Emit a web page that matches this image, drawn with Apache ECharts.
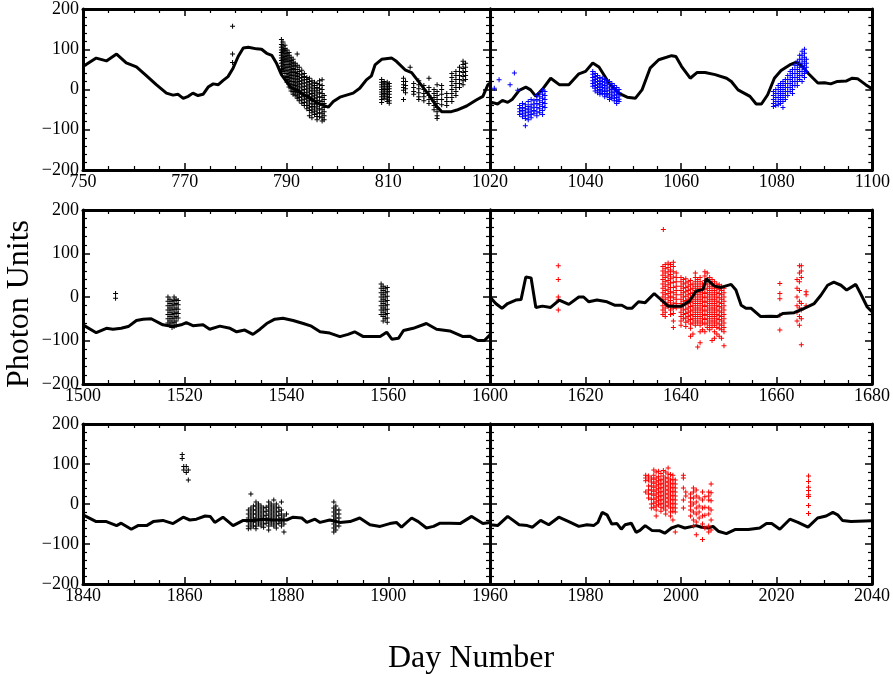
<!DOCTYPE html>
<html>
<head>
<meta charset="utf-8">
<script src="https://cdn.jsdelivr.net/npm/echarts@6/dist/echarts.min.js"></script>
<style>
  html, body { margin: 0; padding: 0; background: #fff; }
  #chart { width: 893px; height: 674px; }
</style>
</head>
<body>
<div id="chart"></div>
<script>
// black model curves, one per panel: [day, photon units]
const tlCurve = [[750,57],[752.6,78],[754.6,71],[756.6,88],[758.5,66],[760.5,56],[762.5,34],[764.4,12],[766.4,-9],[767.7,-14],[768.7,-12],[769.7,-22],[770.7,-17],[771.6,-9],[772.6,-15],[773.6,-12],[774.6,6],[775.6,14],[776.6,12],[777.5,22],[778.5,32],[779.5,53],[780.5,82],[781.5,103],[782.5,105],[784.1,101],[785.1,100],[786.1,90],[787.1,85],[788,66],[789,37],[790.7,7],[792.6,-7],[794.6,-22],[796.2,-34],[798.2,-44],[799.2,-30],[800.5,-19],[803.1,-9],[804.4,3],[805.7,24],[806.7,34],[807.4,61],[808.7,75],[810.7,78],[811.6,70],[813.3,49],[814.6,42],[816.2,16],[818.2,-17],[819.5,-42],[820.5,-55],[822.4,-55],[823.5,-51],[825.4,-41],[827.3,-26],[828.6,-17],[829.6,12],[830,16]];
const trCurve = [[1020,-40],[1020.4,-32],[1021.6,-36],[1022.6,-27],[1023.7,-32],[1024.7,-24],[1026.1,-2],[1027.5,6],[1028.5,-1],[1029.6,-17],[1031,1],[1032.7,28],[1034.5,12],[1036.5,12],[1038.6,39],[1040,45],[1041.5,66],[1042.8,56],[1044.9,16],[1046.9,-9],[1048.7,-19],[1050.4,-22],[1051.8,-1],[1053.5,53],[1055.3,74],[1058,84],[1058.9,82],[1060.1,57],[1061.9,28],[1063.3,42],[1065,42],[1067.1,37],[1069.5,28],[1070.5,20],[1071.9,-1],[1074.4,-17],[1075.7,-36],[1076.8,-36],[1078.1,-13],[1079.5,28],[1080.9,47],[1082.7,61],[1084.1,68],[1085.4,57],[1086.5,41],[1088.6,16],[1090,17],[1091.3,14],[1092.7,20],[1094.5,21],[1095.8,28],[1096.9,27],[1098.6,12],[1100,1]];
const mlCurve = [[1500,-64],[1502.6,-82],[1504.6,-72],[1505.9,-74],[1507.5,-72],[1508.9,-68],[1510.5,-54],[1511.8,-51],[1513.4,-50],[1515.7,-64],[1517.7,-68],[1519.3,-64],[1520.3,-59],[1521.6,-66],[1523.6,-64],[1524.9,-74],[1526.9,-67],[1528.9,-72],[1530.2,-80],[1531.8,-76],[1533.4,-86],[1534.8,-74],[1536.1,-61],[1537.7,-51],[1539.3,-49],[1541.3,-54],[1543.3,-61],[1544.9,-67],[1546.6,-80],[1548.5,-83],[1550.5,-91],[1552.1,-86],[1553.4,-80],[1555.1,-91],[1557,-91],[1558.4,-91],[1559.7,-81],[1560.7,-97],[1562,-95],[1563,-77],[1564.9,-72],[1567.5,-61],[1569.5,-74],[1572.1,-78],[1574.7,-91],[1576,-90],[1577.6,-100],[1578.9,-100],[1580,-87]];
const mrCurve = [[1600,0],[1601.2,-15],[1602.5,-26],[1603.7,-15],[1605.4,-7],[1606.5,-6],[1607.5,46],[1608.6,44],[1609.6,-24],[1611,-21],[1612.7,-24],[1614.5,-7],[1616.5,-17],[1618.6,0],[1619.6,0],[1620.7,-11],[1622.4,-7],[1624.5,-11],[1626.2,-19],[1627.6,-19],[1628.7,-26],[1629.7,-26],[1631.1,-11],[1632.5,-13],[1634.4,8],[1635.6,-4],[1637.3,-21],[1640.1,-21],[1641.8,-9],[1643.2,14],[1644.6,17],[1645.3,42],[1647,25],[1648.4,22],[1650.5,29],[1651.5,16],[1652.6,-19],[1653.6,-26],[1654.7,-26],[1656.7,-45],[1658.8,-44],[1660.2,-45],[1661.3,-38],[1663.7,-36],[1665.8,-26],[1667.9,-15],[1669.3,4],[1670.7,27],[1672,34],[1673.5,27],[1674.7,16],[1676.6,29],[1677.6,8],[1679,-23],[1680,-34]];
const blCurve = [[1840,-27],[1842.6,-44],[1844.6,-44],[1846.6,-54],[1847.5,-48],[1849.5,-63],[1850.8,-54],[1852.5,-54],[1853.8,-44],[1855.7,-41],[1857.7,-49],[1859.7,-33],[1861,-40],[1862.3,-38],[1864,-30],[1865,-31],[1865.9,-46],[1867.5,-33],[1869.5,-54],[1871.5,-41],[1873.4,-41],[1875.4,-38],[1877.4,-40],[1880,-40],[1881.3,-33],[1883,-35],[1884,-46],[1885.6,-38],[1886.6,-46],[1888.5,-40],[1890.5,-46],[1892.5,-44],[1894.4,-35],[1896.4,-52],[1898.4,-56],[1900.3,-49],[1901.6,-46],[1902.6,-58],[1904.6,-35],[1905.9,-44],[1907.5,-60],[1908.9,-56],[1910.2,-48],[1912.1,-48],[1914.1,-49],[1916.4,-31],[1918.6,-49],[1920,-46]];
const brCurve = [[1960,-52],[1961.6,-54],[1963.7,-31],[1966.1,-52],[1967.8,-54],[1968.9,-58],[1970.6,-41],[1972.3,-52],[1974.4,-33],[1976.5,-44],[1978.6,-56],[1980.3,-52],[1981.7,-54],[1982.6,-46],[1983.5,-21],[1984.5,-27],[1985.5,-50],[1986.6,-49],[1987.5,-63],[1988.3,-52],[1989.6,-48],[1990.6,-71],[1991.4,-66],[1992.5,-54],[1993.9,-66],[1995.6,-67],[1996.6,-73],[1998,-60],[1999.4,-54],[2000.8,-60],[2003.2,-54],[2004.3,-58],[2005.7,-60],[2006.7,-56],[2007.8,-68],[2009.5,-74],[2011.3,-64],[2014.1,-64],[2016.5,-60],[2017.9,-49],[2019,-49],[2020.7,-63],[2022.8,-38],[2024.5,-46],[2026.6,-58],[2028.6,-35],[2030.4,-30],[2031.8,-21],[2032.8,-27],[2033.8,-41],[2035.6,-44],[2040,-42]];

// measured points, grouped by day: [day, [values...]]
const tlPoints = [
  [779.4,[157,88,67]],
  [789.0,[124,112,105,98,92,85,78,72,65,58,50,44]],
  [789.3,[118,108,100,95,88,80,74,68,60,52,45]],
  [789.7,[110,102,96,90,82,76,70,62,55,48,40,30]],
  [790.1,[98,90,84,76,70,62,55,48,40,32,25,18]],
  [790.5,[92,85,78,70,62,55,46,38,30,22,14,6]],
  [790.9,[80,72,65,58,50,42,35,28,20,12,4,-4]],
  [791.3,[75,68,60,52,44,36,28,20,12,4,-5,-12]],
  [791.7,[65,58,50,42,34,26,18,10,2,-6,-14]],
  [792.1,[88,60,50,40,32,24,16,8,0,-8,-16,-22]],
  [792.5,[55,45,36,28,20,12,4,-4,-12,-20,-28]],
  [793.0,[48,38,30,22,14,6,-2,-10,-18,-26,-34]],
  [793.5,[40,32,24,16,8,0,-8,-16,-24,-32,-40]],
  [794.0,[30,25,17,9,1,-7,-15,-23,-31,-40,-48]],
  [794.5,[28,20,12,4,-4,-12,-20,-28,-36,-44,-52,-65]],
  [795.0,[22,14,6,-2,-10,-18,-26,-34,-42,-50,-58,-70]],
  [795.5,[18,10,2,-6,-14,-22,-30,-38,-46,-54,-62]],
  [796.0,[15,5,-3,-11,-19,-27,-35,-43,-51,-59,-67,-75]],
  [796.5,[22,12,2,-8,-18,-28,-38,-48,-58,-68]],
  [797.0,[24,10,0,-10,-20,-30,-40,-50,-60,-70,-78]],
  [797.4,[-15,-25,-35,-45,-55,-65,-75]],
  [808.7,[25,18,12,6,0,-6,-12,-18,-25,-32]],
  [809.2,[20,14,8,2,-4,-10,-16,-22]],
  [809.8,[18,12,6,0,-6,-12,-18,-24,-30]],
  [810.2,[15,8,2,-5,-12,-20,-28,-34]],
  [813.0,[28,20,12,5,-2,-25]],
  [813.4,[20,10,2,-8]],
  [814.3,[55]],
  [815.0,[15,5,-5,-12]],
  [816.0,[22,12,2,-8,-18,-25]],
  [817.0,[10,0,-10,-18,-28]],
  [818.0,[28,5,-5,-15,-25,-35]],
  [819.0,[0,-10,-20,-30,-40,-50]],
  [819.6,[12,-5,-15,-25,-35,-45,-55,-65,-72]],
  [820.5,[10,0,-12,-25,-38]],
  [821.5,[-10,-20,-30,-40]],
  [822.5,[40,30,20,10,0,-10,-20,-30]],
  [823.3,[45,35,25,15,5,-5,-15]],
  [824.0,[55,45,35,25,15,5]],
  [824.7,[70,62,52,42,32,22,12]],
  [825.2,[65,55,45,35,25]]
];
const trPoints = [
  [1020.9,[3]],[1021.9,[24]],[1024.2,[12]],[1025.1,[41]],[1025.8,[-2]],
  [1026.2,[-40,-48,-55,-62]],
  [1026.8,[-35,-45,-52,-60,-68]],
  [1027.4,[-38,-48,-56,-64,-72,-90]],
  [1028.0,[-30,-42,-50,-58,-66,-75]],
  [1028.6,[-25,-38,-46,-54,-62,-70]],
  [1029.2,[-28,-36,-44,-52,-60]],
  [1029.8,[-15,-25,-35,-45,-55,-65]],
  [1030.4,[-8,-18,-28,-38,-48,-58]],
  [1031.0,[-2,-12,-22,-32,-42,-52,-62]],
  [1031.5,[-5,-15,-25,-35,-45]],
  [1041.5,[45,38,30,22,15,8]],
  [1042.0,[40,32,25,18,10,3,-4]],
  [1042.5,[35,28,20,12,5,-2,-8]],
  [1043.0,[30,22,15,8,0,-6,-12]],
  [1043.5,[28,20,12,5,-3,-10]],
  [1044.0,[25,18,10,2,-5,-12,-18]],
  [1044.5,[22,14,6,-2,-10,-16]],
  [1045.0,[20,12,4,-4,-12,-20,-25]],
  [1045.5,[15,8,0,-8,-16,-22]],
  [1046.0,[10,2,-6,-14,-22,-28]],
  [1046.5,[5,-3,-12,-20,-28,-35]],
  [1047.0,[0,-8,-16,-24,-30]],
  [1079.3,[-5,-15,-25,-35,-42]],
  [1079.8,[0,-10,-20,-30,-40]],
  [1080.3,[10,0,-10,-20,-30,-38]],
  [1080.8,[15,5,-5,-15,-25,-35]],
  [1081.3,[20,10,0,-10,-20,-30,-45]],
  [1081.8,[25,15,5,-5,-15,-25]],
  [1082.3,[35,25,15,5,-5,-15]],
  [1082.8,[45,35,25,15,5,-5]],
  [1083.3,[50,40,30,20,10,0,-10]],
  [1083.8,[60,50,40,30,20,10]],
  [1084.3,[70,60,50,40,30,20,10]],
  [1084.8,[85,75,65,55,45,35,25]],
  [1085.3,[95,85,75,65,55,45,35,20]],
  [1085.8,[100,90,80,70,60,50,40,30]],
  [1086.2,[75,65,55,45]]
];
const mlPoints = [
  [1506.4,[8,-3]],
  [1516.7,[0,-10,-20,-30,-40,-50,-60]],
  [1517.1,[-5,-15,-25,-35,-45,-55,-65]],
  [1517.5,[-10,-20,-30,-40,-50,-60,-70]],
  [1517.9,[0,-8,-18,-28,-38,-48,-58,-68]],
  [1518.3,[-5,-15,-25,-35,-45,-55,-65]],
  [1518.7,[-8,-18,-28,-38,-48]],
  [1558.6,[30,20,10,0,-10,-20,-30,-40]],
  [1559.0,[25,15,5,-5,-15,-25,-35,-45,-55]],
  [1559.4,[20,10,0,-10,-20,-30,-40,-50]],
  [1559.8,[22,12,2,-8,-18,-28,-38,-48,-58]]
];
const mrPoints = [
  [1614.3,[72,40,0,-7,-30]],
  [1636.3,[155]],
  [1636.2,[70,60,50,40,30,20,10,0,-10,-20,-30,-40]],
  [1636.7,[75,65,55,45,35,25,15,5,-5,-15,-25,-35,-45]],
  [1637.3,[78,68,58,48,38,28,18,8,-2,-12,-22]],
  [1637.8,[75,62,52,42,32,22,12,2,-8,-18,-30,-40]],
  [1638.4,[80,70,58,46,34,22,10,-2,-14,-26,-38,-55,-70]],
  [1639.0,[55,45,35,25,15,5,-5,-15,-25]],
  [1640.0,[45,35,25,15,5,-5,-15,-25,-35,-45,-55,-65]],
  [1640.5,[40,30,20,10,0,-10,-20,-30,-40,-50]],
  [1641.0,[42,32,22,12,2,-8,-18,-28,-38,-48,-58,-68]],
  [1641.5,[35,25,15,5,-5,-15,-25,-35,-45,-55]],
  [1642.0,[38,28,18,8,-2,-12,-22,-32,-42,-52,-62,-72,-90]],
  [1642.5,[30,20,10,0,-10,-20,-30,-40,-50,-60,-85]],
  [1643.0,[55,45,35,25,15,5,-5,-15,-25,-35,-45,-55,-65]],
  [1643.5,[40,30,20,10,0,-10,-20,-30,-40,-50,-60,-115]],
  [1644.0,[45,35,25,15,5,-5,-15,-25,-35,-45,-55,-65,-80,-105]],
  [1644.5,[30,20,10,0,-10,-20,-30,-40,-50,-60,-75]],
  [1645.0,[58,48,38,28,18,8,-2,-12,-22,-32,-42,-52,-62,-80]],
  [1645.5,[55,40,30,20,10,0,-10,-20,-30,-40,-50,-60,-70]],
  [1646.0,[45,35,25,15,5,-5,-15,-25,-35,-45,-55,-65,-75]],
  [1646.5,[40,30,20,10,0,-10,-20,-30,-40,-50,-60,-70,-100]],
  [1647.0,[35,25,15,5,-5,-15,-25,-35,-45,-55,-65,-80,-95]],
  [1647.5,[30,20,10,0,-10,-20,-30,-40,-50,-60,-70,-85]],
  [1648.0,[28,18,8,-2,-12,-22,-32,-42,-52,-62,-72,-90]],
  [1648.5,[25,15,5,-5,-15,-25,-35,-45,-55,-65,-75,-95]],
  [1649.0,[20,10,0,-10,-20,-30,-40,-50,-60,-70,-80,-112]],
  [1660.7,[31,8,-4,-42,-76]],
  [1664.3,[40,20,0,-20,-35,-55]],
  [1664.8,[72,55,35,15,-10,-25,-45,-65]],
  [1665.2,[72,60,45,-15,-30,-50,-110]],
  [1666.2,[12,5,-20]]
];
const blPoints = [
  [1859.5,[124,114]],
  [1859.8,[94,85]],
  [1860.3,[79,94]],
  [1860.7,[85,60]],
  [1872.5,[-15,-25,-35,-45,-55,-62]],
  [1873.0,[25,-10,-20,-30,-40,-50,-60]],
  [1873.5,[-5,-15,-25,-35,-45,-55]],
  [1874.0,[5,-5,-15,-25,-35,-45,-55,-62]],
  [1874.5,[0,-10,-20,-30,-40,-50]],
  [1875.0,[-5,-15,-25,-35,-45,-55]],
  [1875.5,[-10,-20,-30,-40,-50,-58]],
  [1876.0,[-8,-18,-28,-38,-48]],
  [1876.5,[5,-5,-15,-25,-35,-45,-55,-65]],
  [1877.0,[0,-10,-20,-30,-40,-50]],
  [1877.5,[10,-5,-15,-25,-35,-45,-55]],
  [1878.0,[0,-10,-20,-30,-40,-50,-60]],
  [1878.5,[-8,-18,-28,-38,-48]],
  [1879.0,[5,-15,-25,-35,-45,-55]],
  [1879.5,[-30,-40,-50,-70]],
  [1880.0,[-25]],
  [1889.3,[5,-10,-20,-30,-40,-50,-60,-70]],
  [1889.7,[-5,-15,-25,-35,-45,-55,-65]],
  [1890.3,[-15,-25,-35,-45,-55]]
];
const brPoints = [
  [1992.6,[72,65,58,30]],
  [1993.2,[70,60,45,35,25,15]],
  [1993.8,[65,55,45,35,25,12,0,-10]],
  [1994.3,[85,72,62,52,42,32,22,12,2,-8]],
  [1994.8,[80,65,55,45,35,25,15,5,-5,-15,-30]],
  [1995.3,[82,68,58,48,38,28,18,8,-2]],
  [1995.8,[76,62,52,42,32,22,12,2,-8,-18]],
  [1996.3,[84,70,60,50,40,30,20,10,0,-10]],
  [1996.8,[80,65,55,45,35,25,15,5,-5,-15,-25]],
  [1997.3,[90,75,65,55,45,35,25,15,5,-5]],
  [1997.8,[74,60,50,40,30,20,10,0,-10,-20,-30]],
  [1998.3,[72,62,52,42,32,22,12,2,-8,-18,-40]],
  [1998.8,[60,50,40,30,20,10,0,-10,-20,-70]],
  [2000.5,[72,65,40,10,-10]],
  [2001.0,[30,20]],
  [2002.0,[25,15,5,-5,-15,-30]],
  [2002.6,[40,30,15,0,-20,-40,-55]],
  [2003.2,[35,20,5,-10,-25,-45,-77]],
  [2003.8,[15,-5,-20,-35]],
  [2004.5,[30,10,-10,-30,-50,-89]],
  [2005.0,[18,-8,-28,-60]],
  [2005.8,[30,20,10,-10,-25,-55,-70]],
  [2006.3,[50,28,8,-15,-40,-65]],
  [2026.7,[70,56,42,34,23,19,-4,-24]]
];

const yMin = -200, yMax = 200;
const FONT = 'Liberation Serif';
const PLUS = 'path://M4,0H6V4H10V6H6V10H4V6H0V4H4Z';

const panels = [
  { rect: { left: 83,  top: 9,   width: 407, height: 161 }, xMin: 750,  xMax: 830,  curve: tlCurve, pts: tlPoints, color: '#000', left: true,  lineOnTop: false },
  { rect: { left: 490, top: 9,   width: 385, height: 161 }, xMin: 1020, xMax: 1100, curve: trCurve, pts: trPoints, color: '#0000ff', left: false, lineOnTop: false },
  { rect: { left: 83,  top: 210, width: 407, height: 174 }, xMin: 1500, xMax: 1580, curve: mlCurve, pts: mlPoints, color: '#000', left: true,  lineOnTop: false },
  { rect: { left: 490, top: 210, width: 385, height: 174 }, xMin: 1600, xMax: 1680, curve: mrCurve, pts: mrPoints, color: '#ff0000', left: false, lineOnTop: true },
  { rect: { left: 83,  top: 424, width: 407, height: 160 }, xMin: 1840, xMax: 1920, curve: blCurve, pts: blPoints, color: '#000', left: true,  lineOnTop: false },
  { rect: { left: 490, top: 424, width: 385, height: 160 }, xMin: 1960, xMax: 2040, curve: brCurve, pts: brPoints, color: '#ff0000', left: false, lineOnTop: false }
];

function flatten(groups) {
  const out = [];
  groups.forEach(([x, ys]) => ys.forEach(y => out.push([x, y])));
  return out;
}

function minus(v) {
  return String(v).replace('-', '\u2212');
}

function makeAxis(kind, i, p, pos) {
  const isX = kind === 'x';
  const labelled = isX ? pos === 'bottom' : (pos === 'left' && p.left);
  return {
    type: 'value',
    gridIndex: i,
    position: pos,
    min: isX ? p.xMin : yMin,
    max: isX ? p.xMax : yMax,
    interval: isX ? 20 : 100,
    axisLine: { show: true, onZero: false, lineStyle: { color: '#000', width: 3 } },
    axisTick: { show: true, inside: true, length: 7, lineStyle: { color: '#000', width: 1.5 } },
    minorTick: { show: true, splitNumber: isX ? 4 : 5, length: 4, lineStyle: { color: '#000', width: 1.2 } },
    splitLine: { show: false },
    minorSplitLine: { show: false },
    axisLabel: {
      show: labelled,
      showMaxLabel: isX ? !p.left : true,
      showMinLabel: true,
      hideOverlap: false,
      color: '#000',
      fontFamily: FONT,
      fontSize: 18,
      margin: isX ? 3 : 4,
      formatter: minus
    }
  };
}

const grids = [], xAxes = [], yAxes = [], series = [];
panels.forEach((p, i) => {
  grids.push(Object.assign({ containLabel: false }, p.rect));
  xAxes.push(makeAxis('x', i, p, 'bottom'), makeAxis('x', i, p, 'top'));
  yAxes.push(makeAxis('y', i, p, 'left'), makeAxis('y', i, p, 'right'));
  series.push({
    type: 'scatter',
    xAxisIndex: i * 2,
    yAxisIndex: i * 2,
    data: flatten(p.pts),
    symbol: PLUS,
    symbolSize: 5,
    itemStyle: { color: p.color, opacity: 1 },
    z: p.lineOnTop ? 2 : 4
  });
  series.push({
    type: 'line',
    xAxisIndex: i * 2,
    yAxisIndex: i * 2,
    data: p.curve,
    symbol: 'none',
    showSymbol: false,
    lineStyle: { color: '#000', width: 3 },
    z: 3
  });
});

const chart = echarts.init(document.getElementById('chart'));
chart.setOption({
  animation: false,
  backgroundColor: '#fff',
  grid: grids,
  xAxis: xAxes,
  yAxis: yAxes,
  series: series,
  graphic: [
    {
      type: 'text',
      left: 4,
      top: 220,
      rotation: Math.PI / 2,
      style: { text: 'Photon Units', font: '32px "Liberation Serif"', fill: '#000' }
    },
    {
      type: 'text',
      left: 388,
      top: 643,
      style: { text: 'Day Number', font: '32px "Liberation Serif"', fill: '#000' }
    }
  ]
});
</script>
</body>
</html>
